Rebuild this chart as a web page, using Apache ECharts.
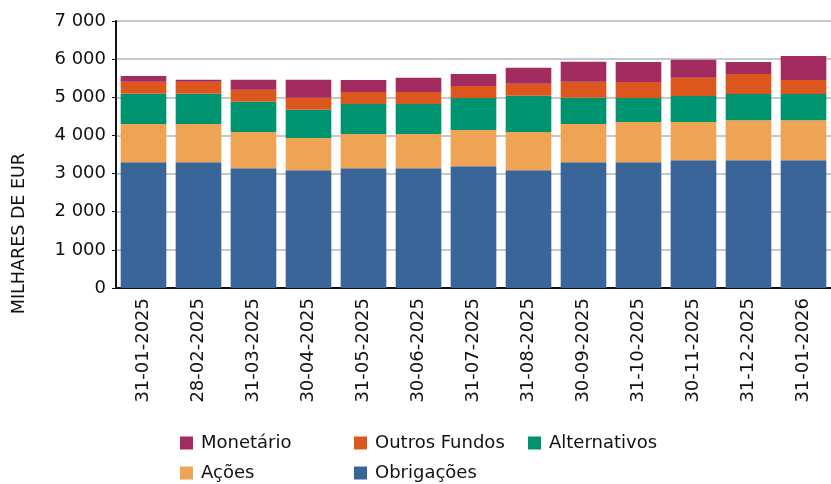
<!DOCTYPE html>
<html lang="pt">
  <head>
    <meta charset="UTF-8" />
    <title>fundos stacked</title>
    <script src="https://cdn.jsdelivr.net/npm/echarts@6/dist/echarts.min.js"></script>
    <style>
      html, body { margin: 0; padding: 0; background: #fff; }
      #main { width: 831px; height: 484px; }
    </style>
  </head>
  <body>
    <div id="main"></div>
    <script>
      var datas = ["31-01-2025", "28-02-2025", "31-03-2025", "30-04-2025", "31-05-2025", "30-06-2025",
        "31-07-2025", "31-08-2025", "30-09-2025", "31-10-2025", "30-11-2025", "31-12-2025", "31-01-2026"];
      var obrigacoes = [3300, 3300, 3140, 3090, 3140, 3140, 3190, 3090, 3300, 3300, 3350, 3350, 3350];
      var acoes = [1000, 1000, 950, 840, 895, 895, 950, 1000, 1000, 1050, 1000, 1050, 1050];
      var alternativos = [790, 790, 790, 740, 790, 790, 840, 950, 685, 630, 685, 685, 685];
      var outros = [315, 315, 315, 315, 315, 315, 315, 315, 420, 420, 475, 525, 370];
      var monetario = [155, 55, 265, 475, 315, 370, 315, 420, 525, 525, 475, 315, 630];

      var font = "'DejaVu Sans', sans-serif";
      var myChart = echarts.init(document.getElementById("main"));

      function legendItem(name, left, top) {
        return {
          data: [name], left: left, top: top, itemWidth: 13, itemHeight: 13, icon: "rect",
          selectedMode: false,
          textStyle: { fontFamily: font, fontSize: 18, color: "#111", padding: [0, 0, 0, 3] }
        };
      }

      function serie(name, data, color) {
        return { name: name, type: "bar", stack: "total", data: data, barCategoryGap: "17%",
          itemStyle: { color: color }, emphasis: { disabled: true } };
      }

      var option = {
        animation: false,
        grid: { left: 116, right: -10, top: 21, bottom: 196 },
        legend: [
          legendItem("Monetário", 175, 429),
          legendItem("Outros Fundos", 349, 429),
          legendItem("Alternativos", 523, 429),
          legendItem("Ações", 175, 459),
          legendItem("Obrigações", 349, 459)
        ],
        graphic: [{
          type: "text", left: 10, top: 153, rotation: Math.PI / 2,
          style: { text: "MILHARES DE EUR", font: "17.5px " + font, fill: "#111" }
        }],
        xAxis: {
          type: "category", data: datas,
          axisLine: { lineStyle: { color: "#111", width: 2 } },
          axisTick: { show: false },
          axisLabel: { rotate: 90, margin: 10, fontFamily: font, fontSize: 18, color: "#111" }
        },
        yAxis: {
          type: "value", min: 0, max: 7000, interval: 1000,
          axisLine: { show: true, lineStyle: { color: "#111", width: 2 } },
          axisTick: { show: true, length: 4, lineStyle: { color: "#111" } },
          splitLine: { lineStyle: { color: "#c8c8c8", width: 2 } },
          axisLabel: {
            margin: 10, fontFamily: font, fontSize: 18, color: "#111",
            formatter: function (v) { return String(v).replace(/\B(?=(\d{3})+(?!\d))/g, " "); }
          }
        },
        series: [
          serie("Obrigações", obrigacoes, "#3A6598"),
          serie("Ações", acoes, "#EFA354"),
          serie("Alternativos", alternativos, "#009370"),
          serie("Outros Fundos", outros, "#DC571E"),
          serie("Monetário", monetario, "#A22B60")
        ]
      };
      myChart.setOption(option);
    </script>
  </body>
</html>
